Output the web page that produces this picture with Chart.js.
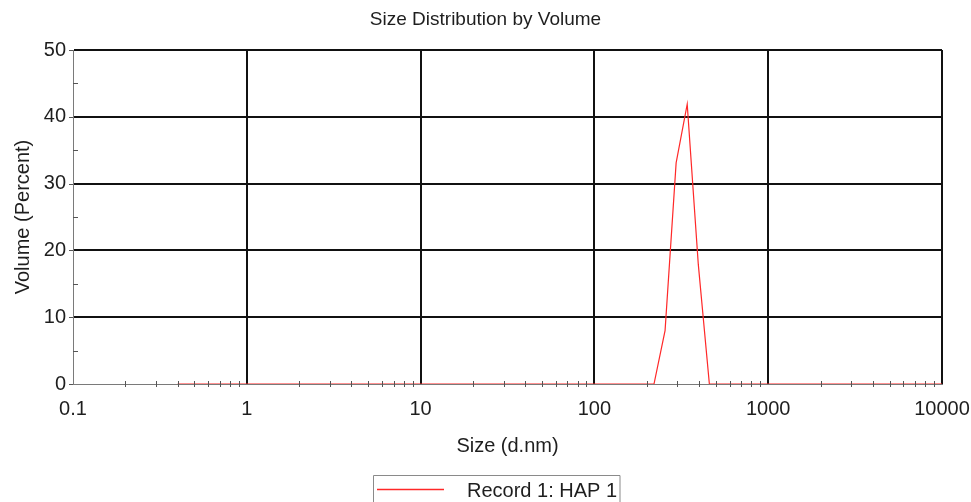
<!DOCTYPE html>
<html>
<head>
<meta charset="utf-8">
<script src="https://cdn.jsdelivr.net/npm/chart.js@4.4.1/dist/chart.umd.min.js"></script>
<style>
  html, body { margin: 0; padding: 0; background: #ffffff; }
  #wrap { width: 971px; height: 502px; position: relative; }
</style>
</head>
<body>
<div id="wrap"><canvas id="c"></canvas></div>
<script>
// ---- data ----
const chartTitle = "Size Distribution by Volume";
const xAxisTitle = "Size (d.nm)";
const yAxisTitle = "Volume (Percent)";
const seriesLabel = "Record 1: HAP 1";

// size classes (d.nm)
const sizes = [
  0.4, 0.4632, 0.5365, 0.6213, 0.7195, 0.8332, 0.9649, 1.117, 1.294, 1.499,
  1.736, 2.01, 2.328, 2.696, 3.122, 3.615, 4.187, 4.849, 5.615, 6.503,
  7.531, 8.721, 10.1, 11.7, 13.54, 15.69, 18.17, 21.04, 24.36, 28.21,
  32.67, 37.84, 43.82, 50.75, 58.77, 68.06, 78.82, 91.28, 105.7, 122.4,
  141.8, 164.2, 190.1, 220.2, 255, 295.3, 342, 396.1, 458.7, 531.2,
  615.1, 712.4, 825, 955.4, 1106, 1281, 1484, 1718, 1990, 2305,
  2669, 3091, 3580, 4145, 4801, 5560, 6439, 7456, 8635, 10000
];
// volume (%)
const volumes = [
  0, 0, 0, 0, 0, 0, 0, 0, 0, 0,
  0, 0, 0, 0, 0, 0, 0, 0, 0, 0,
  0, 0, 0, 0, 0, 0, 0, 0, 0, 0,
  0, 0, 0, 0, 0, 0, 0, 0, 0, 0,
  0, 0, 0, 0, 8.0, 33.1, 41.9, 17.9, 0, 0,
  0, 0, 0, 0, 0, 0, 0, 0, 0, 0,
  0, 0, 0, 0, 0, 0, 0, 0, 0, 0
];
const xMajorTicks = [0.1, 1, 10, 100, 1000, 10000];
const xMinorMultipliers = [2, 3, 4, 5, 6, 7, 8, 9];
const yMajorTicks = [0, 10, 20, 30, 40, 50];
const yMinorTicks = [5, 15, 25, 35, 45];

// ---- styles ----
const FONT = "'Liberation Sans', Arial, Helvetica, sans-serif";
const TEXT = "#1e1e1e";
const AXIS = "#7a7a7a";
const TICK = "#555555";
const GRID = "#111111";
const RED = "rgb(255,40,40)";

const points = sizes.map((s, i) => ({ x: s, y: volumes[i] }));

const extrasPlugin = {
  id: "extras",
  afterDraw(chart) {
    const ctx = chart.ctx;
    const xs = chart.scales.x, ys = chart.scales.y;
    const ca = chart.chartArea;
    ctx.save();
    ctx.strokeStyle = TICK;
    ctx.lineWidth = 1;
    // x minor ticks
    ctx.beginPath();
    for (let d = 0; d < xMajorTicks.length - 1; d++) {
      for (const m of xMinorMultipliers) {
        const px = Math.round(xs.getPixelForValue(xMajorTicks[d] * m)) + 0.5;
        ctx.moveTo(px, ca.bottom - 3);
        ctx.lineTo(px, ca.bottom + 3);
      }
    }
    // y minor ticks (inside)
    for (const v of yMinorTicks) {
      const py = Math.round(ys.getPixelForValue(v)) + 0.5;
      ctx.moveTo(ca.left, py);
      ctx.lineTo(ca.left + 5, py);
    }
    // y major ticks (outside)
    for (const v of yMajorTicks) {
      const py = Math.round(ys.getPixelForValue(v)) + 0.5;
      ctx.moveTo(ca.left - 4, py);
      ctx.lineTo(ca.left, py);
    }
    ctx.stroke();

    // legend box
    const ds = chart.data.datasets[0];
    const lx = 373.5, ly = 475.5, lw = 246.5;
    ctx.strokeStyle = "#8a8a8a";
    ctx.lineWidth = 1;
    ctx.beginPath();
    ctx.moveTo(lx, chart.height + 5);
    ctx.lineTo(lx, ly);
    ctx.lineTo(lx + lw, ly);
    ctx.lineTo(lx + lw, chart.height + 5);
    ctx.stroke();
    ctx.strokeStyle = ds.borderColor;
    ctx.lineWidth = 1.4;
    ctx.beginPath();
    ctx.moveTo(377, 489.5);
    ctx.lineTo(444, 489.5);
    ctx.stroke();
    ctx.fillStyle = TEXT;
    ctx.font = "20px " + FONT;
    ctx.textAlign = "left";
    ctx.textBaseline = "middle";
    ctx.fillText(ds.label, 467, 491);
    ctx.restore();
  }
};

new Chart(document.getElementById("c"), {
  type: "line",
  data: {
    datasets: [{
      label: seriesLabel,
      data: points,
      borderColor: RED,
      backgroundColor: RED,
      borderWidth: 1.2,
      pointRadius: 0,
      tension: 0,
      fill: false
    }]
  },
  options: {
    responsive: true,
    maintainAspectRatio: false,
    animation: false,
    layout: { padding: { left: 0, right: 0, top: 0, bottom: 44 } },
    plugins: {
      legend: { display: false },
      tooltip: { enabled: false },
      title: {
        display: true,
        text: chartTitle,
        color: TEXT,
        font: { family: FONT, size: 19, weight: "normal", lineHeight: 1.2 },
        padding: { top: 8.6, bottom: 18.6 }
      }
    },
    scales: {
      x: {
        type: "logarithmic",
        min: 0.1,
        max: 10000,
        afterBuildTicks(scale) { scale.ticks = xMajorTicks.map(v => ({ value: v })); },
        afterFit(scale) { scale.height = 74; scale.paddingRight = 29; scale.paddingLeft = 0; },
        ticks: {
          color: TEXT,
          font: { family: FONT, size: 20 },
          padding: 13,
          maxRotation: 0,
          autoSkip: false,
          callback: (v) => String(v)
        },
        grid: {
          drawTicks: false,
          color: (c) => (c.tick && c.tick.value === 0.1 ? "rgba(0,0,0,0)" : GRID),
          lineWidth: 2
        },
        border: { display: true, color: AXIS, width: 1 },
        title: {
          display: true,
          text: xAxisTitle,
          color: TEXT,
          font: { family: FONT, size: 20, lineHeight: 1.2 },
          padding: { top: 0, bottom: 0 }
        }
      },
      y: {
        type: "linear",
        min: 0,
        max: 50,
        afterBuildTicks(scale) { scale.ticks = yMajorTicks.map(v => ({ value: v })); },
        afterFit(scale) { scale.width = 73; },
        ticks: {
          color: TEXT,
          font: { family: FONT, size: 20 },
          padding: 7
        },
        grid: {
          drawTicks: false,
          color: (c) => (c.tick && c.tick.value === 0 ? "rgba(0,0,0,0)" : GRID),
          lineWidth: 2
        },
        border: { display: true, color: AXIS, width: 1 },
        title: {
          display: true,
          text: yAxisTitle,
          color: TEXT,
          font: { family: FONT, size: 20, lineHeight: 1.2 },
          padding: { top: 11, bottom: 0 }
        }
      }
    }
  },
  plugins: [extrasPlugin]
});
</script>
</body>
</html>
